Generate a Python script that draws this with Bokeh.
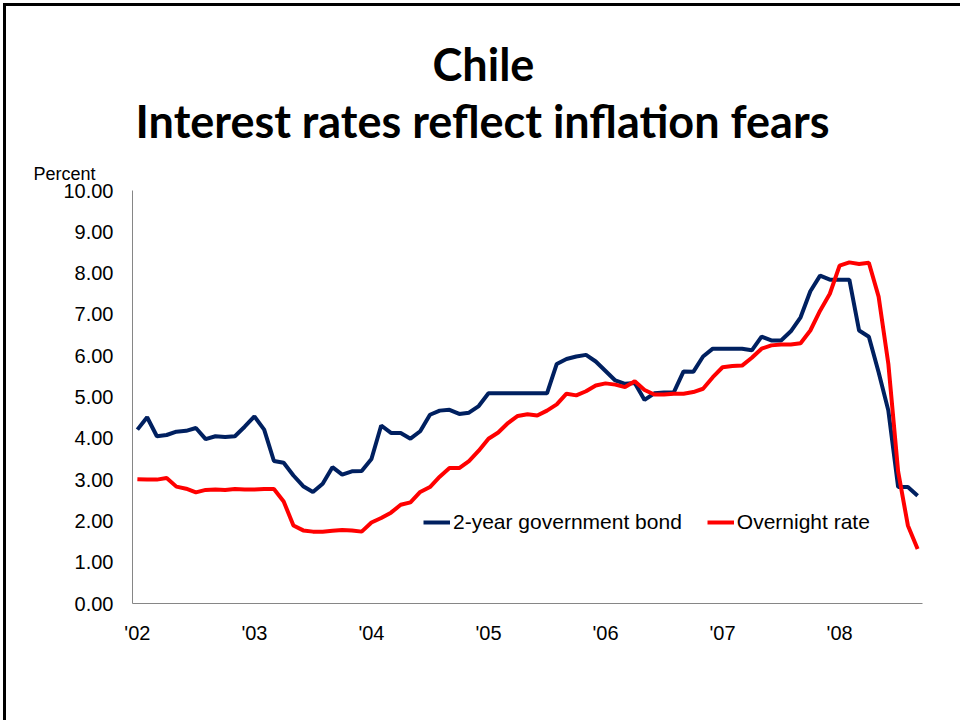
from bokeh.plotting import figure
from bokeh.layouts import column
from bokeh.models import (FixedTicker, NumeralTickFormatter, Legend, LegendItem,
                          Range1d, ColumnDataSource, Title)
from bokeh.core.properties import value
from bokeh.embed import file_html
from bokeh.resources import INLINE

# Monthly observations, Jan 2002 - Sep 2008
months = [f"{y}-{m:02d}" for y in range(2002, 2009) for m in range(1, 13)][:81]

bond_2y = [
    4.21, 4.51, 4.05, 4.08, 4.16, 4.18, 4.25, 3.98, 4.05, 4.03, 4.05, 4.28,
    4.53, 4.21, 3.45, 3.41, 3.10, 2.84, 2.70, 2.90, 3.30, 3.12, 3.20, 3.21,
    3.50, 4.31, 4.13, 4.13, 3.99, 4.17, 4.57, 4.67, 4.69, 4.59, 4.62, 4.78,
    5.09, 5.09, 5.09, 5.09, 5.09, 5.09, 5.09, 5.80, 5.92, 5.98, 6.02, 5.86,
    5.63, 5.40, 5.32, 5.34, 4.93, 5.09, 5.11, 5.11, 5.62, 5.61, 5.98, 6.17,
    6.17, 6.17, 6.17, 6.13, 6.46, 6.37, 6.37, 6.59, 6.93, 7.56, 7.94, 7.84,
    7.84, 7.84, 6.61, 6.46, 5.60, 4.67, 2.82, 2.82, 2.61,
]

overnight = [
    3.01, 3.00, 3.00, 3.04, 2.83, 2.78, 2.69, 2.75, 2.76, 2.75, 2.77, 2.76,
    2.76, 2.77, 2.77, 2.47, 1.89, 1.77, 1.74, 1.74, 1.76, 1.78, 1.77, 1.74,
    1.96, 2.07, 2.20, 2.39, 2.45, 2.70, 2.82, 3.07, 3.28, 3.28, 3.45, 3.70,
    3.99, 4.14, 4.37, 4.54, 4.58, 4.55, 4.67, 4.82, 5.08, 5.04, 5.14, 5.28,
    5.33, 5.30, 5.24, 5.38, 5.17, 5.06, 5.06, 5.08, 5.08, 5.12, 5.20, 5.48,
    5.72, 5.75, 5.76, 5.95, 6.17, 6.25, 6.27, 6.27, 6.30, 6.61, 7.09, 7.50,
    8.18, 8.26, 8.22, 8.25, 7.43, 5.80, 3.20, 1.89, 1.32,
]

year_labels = ["'02", "'03", "'04", "'05", "'06", "'07", "'08"]
y_ticks = [0, 1, 2, 3, 4, 5, 6, 7, 8, 9, 10]

title_lines = ["Chile", "Interest rates reflect inflation fears"]
unit_label = "Percent"

x_idx = list(range(len(months)))
year_ticks = [months.index(f"20{lab[1:]}-01") for lab in year_labels]

AXIS_GREY = "#868686"
TICK_FONT = "Liberation Sans"
TITLE_FONT = "Lato"

# ---------------- heading panel (two title lines) ----------------
# its frame is aligned with the chart frame below (page x 132..922, y 6..150)
head = figure(width=954, height=144, x_range=Range1d(132, 922), y_range=Range1d(150, 6),
              output_backend="svg", toolbar_location=None,
              min_border=0, min_border_left=0, min_border_right=0,
              min_border_top=0, min_border_bottom=0)
head.axis.visible = False
head.grid.visible = False
head.outline_line_color = None
head.background_fill_color = "white"
head.border_fill_color = "white"

head.text(x=[483, 482], y=[63, 120], text=title_lines,
          text_align="center", text_baseline="alphabetic",
          text_font=value(TITLE_FONT), text_font_style="bold",
          text_font_size="45px", text_color="black")

# ---------------- main chart ----------------
src = ColumnDataSource(dict(x=x_idx, month=months, bond=bond_2y, on=overnight))

p = figure(width=954, height=570,
           x_range=Range1d(-0.5, len(months) - 0.5), y_range=Range1d(0, 10),
           output_backend="svg", toolbar_location=None,
           min_border_left=126, min_border_right=38,
           min_border_top=40, min_border_bottom=117)
p.outline_line_color = None
p.background_fill_color = "white"
p.border_fill_color = "white"
p.xgrid.visible = False
p.ygrid.visible = False

p.add_layout(Title(text=unit_label, align="left", offset=-99, standoff=14,
                   text_font=TICK_FONT, text_font_size="18px",
                   text_font_style="normal", text_color="black"), "above")

p.xaxis.ticker = FixedTicker(ticks=year_ticks)
p.xaxis.major_label_overrides = {t: lab for t, lab in zip(year_ticks, year_labels)}
p.yaxis.ticker = FixedTicker(ticks=y_ticks)
p.yaxis.formatter = NumeralTickFormatter(format="0.00")

for ax in (p.xaxis, p.yaxis):
    ax.axis_line_color = AXIS_GREY
    ax.axis_line_width = 1
    ax.major_tick_line_color = None
    ax.minor_tick_line_color = None
    ax.major_tick_out = 0
    ax.major_tick_in = 0
    ax.minor_tick_out = 0
    ax.minor_tick_in = 0
    ax.major_label_text_font = TICK_FONT
    ax.major_label_text_font_size = "20px"
    ax.major_label_text_color = "black"

p.yaxis.major_label_standoff = 19
p.xaxis.major_label_standoff = 18

r1 = p.line("x", "bond", source=src, line_color="#002060", line_width=4)
r2 = p.line("x", "on", source=src, line_color="#FF0000", line_width=4)

legend = Legend(items=[LegendItem(label="2-year government bond", renderers=[r1]),
                       LegendItem(label="Overnight rate", renderers=[r2])],
                orientation="horizontal", location=(291, 69),
                padding=0, margin=0, spacing=25,
                glyph_width=27, glyph_height=22, label_height=22,
                label_standoff=3, border_line_color=None,
                background_fill_alpha=0,
                label_text_font=TICK_FONT, label_text_font_size="21px",
                label_text_color="black")
p.add_layout(legend)

layout = column(head, p, spacing=0,
                styles={"border-left": "3px solid #000000",
                        "border-top": "3px solid #000000",
                        "margin-left": "3px", "margin-top": "3px"})

open("out.html", "w").write(file_html(layout, INLINE))
